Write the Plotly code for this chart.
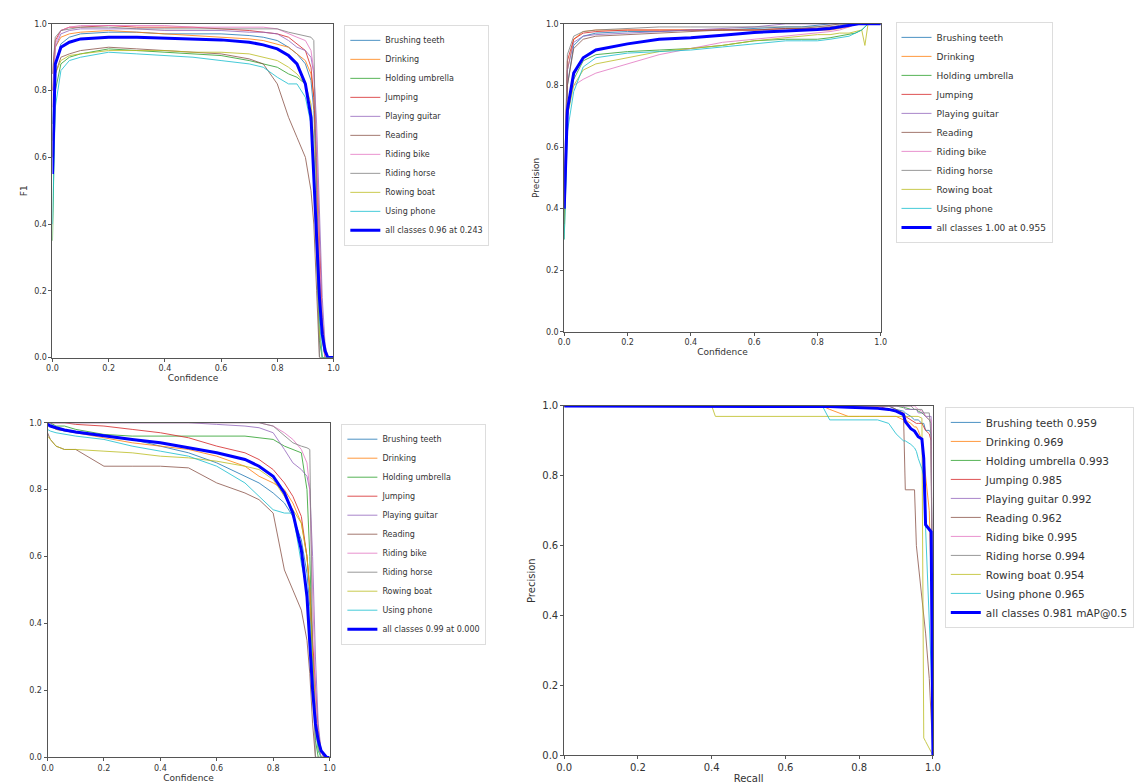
import plotly.graph_objects as go

# ---------------- data ----------------
class_names = ["Brushing teeth", "Drinking", "Holding umbrella", "Jumping", "Playing guitar",
               "Reading", "Riding bike", "Riding horse", "Rowing boat", "Using phone"]
class_ap = [0.959, 0.969, 0.993, 0.985, 0.992, 0.962, 0.995, 0.994, 0.954, 0.965]
class_colors = ["#1f77b4", "#ff7f0e", "#2ca02c", "#d62728", "#9467bd",
                "#8c564b", "#e377c2", "#7f7f7f", "#bcbd22", "#17becf"]

conf = [0.0, 0.01, 0.03, 0.06, 0.1, 0.2, 0.3, 0.4, 0.5, 0.6, 0.7, 0.75, 0.8, 0.84, 0.87,
        0.9, 0.92, 0.93, 0.94, 0.95, 0.96, 0.97, 0.98, 0.99, 1.0]

f1_brushing = [0.70, 0.88, 0.94, 0.96, 0.97, 0.975, 0.975, 0.97, 0.97, 0.97, 0.965, 0.96, 0.95, 0.93, 0.91, 0.88, 0.83, 0.74, 0.50, 0.22, 0.06, 0.0, 0.0, 0.0, 0.0]
f1_drinking = [0.80, 0.93, 0.96, 0.97, 0.975, 0.98, 0.975, 0.97, 0.965, 0.96, 0.955, 0.95, 0.94, 0.93, 0.91, 0.89, 0.85, 0.78, 0.55, 0.25, 0.05, 0.0, 0.0, 0.0, 0.0]
f1_umbrella = [0.35, 0.80, 0.88, 0.90, 0.91, 0.925, 0.92, 0.915, 0.91, 0.905, 0.89, 0.88, 0.87, 0.85, 0.84, 0.82, 0.72, 0.55, 0.30, 0.05, 0.0, 0.0, 0.0, 0.0, 0.0]
f1_jumping = [0.85, 0.95, 0.98, 0.99, 0.99, 0.995, 0.99, 0.99, 0.99, 0.985, 0.98, 0.975, 0.97, 0.96, 0.94, 0.92, 0.87, 0.78, 0.60, 0.35, 0.12, 0.02, 0.0, 0.0, 0.0]
f1_guitar = [0.80, 0.93, 0.97, 0.98, 0.985, 0.985, 0.985, 0.98, 0.98, 0.98, 0.975, 0.975, 0.97, 0.95, 0.93, 0.92, 0.90, 0.85, 0.70, 0.45, 0.18, 0.04, 0.0, 0.0, 0.0]
f1_reading = [0.60, 0.85, 0.90, 0.91, 0.92, 0.93, 0.925, 0.92, 0.915, 0.91, 0.895, 0.88, 0.82, 0.72, 0.66, 0.60, 0.50, 0.40, 0.20, 0.0, 0.0, 0.0, 0.0, 0.0, 0.0]
f1_bike = [0.75, 0.94, 0.98, 0.99, 0.995, 0.995, 0.995, 0.995, 0.99, 0.99, 0.99, 0.99, 0.985, 0.97, 0.96, 0.95, 0.92, 0.86, 0.65, 0.30, 0.08, 0.0, 0.0, 0.0, 0.0]
f1_horse = [0.85, 0.96, 0.98, 0.985, 0.99, 0.99, 0.985, 0.985, 0.985, 0.985, 0.985, 0.985, 0.985, 0.975, 0.97, 0.965, 0.96, 0.95, 0.50, 0.0, 0.0, 0.0, 0.0, 0.0, 0.0]
f1_rowing = [0.65, 0.85, 0.89, 0.905, 0.91, 0.92, 0.92, 0.92, 0.915, 0.915, 0.91, 0.90, 0.89, 0.87, 0.85, 0.82, 0.76, 0.65, 0.40, 0.08, 0.0, 0.0, 0.0, 0.0, 0.0]
f1_phone = [0.40, 0.75, 0.86, 0.89, 0.90, 0.915, 0.91, 0.905, 0.90, 0.89, 0.88, 0.87, 0.84, 0.82, 0.82, 0.78, 0.70, 0.58, 0.38, 0.12, 0.0, 0.0, 0.0, 0.0, 0.0]
f1_all = [0.55, 0.88, 0.93, 0.945, 0.955, 0.96, 0.96, 0.957, 0.955, 0.952, 0.945, 0.937, 0.925, 0.905, 0.88, 0.82, 0.72, 0.55, 0.38, 0.18, 0.07, 0.02, 0.0, 0.0, 0.0]

p_brushing = [0.35, 0.80, 0.93, 0.96, 0.97, 0.975, 0.975, 0.98, 0.98, 0.985, 0.99, 0.99, 0.995, 1.0, 1.0, 1.0, 1.0, 1.0, 1.0, 1.0, 1.0, 1.0, 1.0, 1.0, 1.0]
p_drinking = [0.40, 0.85, 0.95, 0.975, 0.98, 0.98, 0.98, 0.98, 0.98, 0.98, 0.98, 0.98, 0.98, 0.98, 0.985, 0.99, 1.0, 1.0, 1.0, 1.0, 1.0, 1.0, 1.0, 1.0, 1.0]
p_umbrella = [0.30, 0.70, 0.82, 0.88, 0.90, 0.91, 0.915, 0.92, 0.93, 0.945, 0.95, 0.95, 0.95, 0.955, 0.96, 0.965, 0.97, 0.975, 0.98, 0.99, 1.0, 1.0, 1.0, 1.0, 1.0]
p_jumping = [0.45, 0.88, 0.95, 0.97, 0.975, 0.98, 0.98, 0.98, 0.98, 0.98, 0.985, 0.985, 0.985, 0.99, 0.99, 0.995, 1.0, 1.0, 1.0, 1.0, 1.0, 1.0, 1.0, 1.0, 1.0]
p_guitar = [0.40, 0.85, 0.94, 0.96, 0.965, 0.97, 0.975, 0.98, 0.985, 0.99, 1.0, 1.0, 1.0, 1.0, 1.0, 1.0, 1.0, 1.0, 1.0, 1.0, 1.0, 1.0, 1.0, 1.0, 1.0]
p_reading = [0.35, 0.80, 0.92, 0.95, 0.96, 0.965, 0.97, 0.975, 0.98, 0.98, 0.985, 0.985, 0.99, 0.995, 1.0, 1.0, 1.0, 1.0, 1.0, 1.0, 1.0, 1.0, 1.0, 1.0, 1.0]
p_bike = [0.40, 0.75, 0.80, 0.82, 0.84, 0.87, 0.90, 0.92, 0.94, 0.95, 0.96, 0.965, 0.97, 0.975, 0.98, 0.99, 1.0, 1.0, 1.0, 1.0, 1.0, 1.0, 1.0, 1.0, 1.0]
p_horse = [0.45, 0.90, 0.96, 0.975, 0.98, 0.985, 0.99, 0.99, 0.99, 0.99, 0.99, 0.99, 0.99, 0.99, 0.995, 1.0, 1.0, 1.0, 1.0, 1.0, 1.0, 1.0, 1.0, 1.0, 1.0]
p_rowing = [0.35, 0.70, 0.80, 0.85, 0.87, 0.89, 0.91, 0.92, 0.93, 0.945, 0.955, 0.96, 0.965, 0.965, 0.97, 0.97, 0.975, 0.975, 0.98, 0.93, 1.0, 1.0, 1.0, 1.0, 1.0]
p_phone = [0.30, 0.65, 0.78, 0.86, 0.89, 0.905, 0.91, 0.915, 0.925, 0.935, 0.945, 0.945, 0.945, 0.95, 0.955, 0.96, 0.97, 0.975, 0.98, 0.99, 1.0, 1.0, 1.0, 1.0, 1.0]
p_all = [0.40, 0.72, 0.84, 0.89, 0.915, 0.935, 0.95, 0.955, 0.963, 0.972, 0.977, 0.979, 0.982, 0.985, 0.99, 0.997, 1.0, 1.0, 1.0, 1.0, 1.0, 1.0, 1.0, 1.0, 1.0]

r_brushing = [1.0, 1.0, 0.98, 0.975, 0.97, 0.96, 0.95, 0.93, 0.91, 0.88, 0.84, 0.82, 0.79, 0.76, 0.72, 0.65, 0.55, 0.45, 0.30, 0.15, 0.05, 0.0, 0.0, 0.0, 0.0]
r_drinking = [1.0, 0.99, 0.98, 0.975, 0.97, 0.955, 0.94, 0.93, 0.92, 0.90, 0.87, 0.84, 0.82, 0.80, 0.76, 0.70, 0.60, 0.50, 0.30, 0.12, 0.03, 0.0, 0.0, 0.0, 0.0]
r_umbrella = [1.0, 1.0, 0.99, 0.99, 0.98, 0.965, 0.96, 0.96, 0.96, 0.96, 0.96, 0.955, 0.95, 0.93, 0.92, 0.91, 0.80, 0.60, 0.30, 0.05, 0.0, 0.0, 0.0, 0.0, 0.0]
r_jumping = [1.0, 1.0, 1.0, 1.0, 0.995, 0.99, 0.98, 0.97, 0.955, 0.93, 0.91, 0.89, 0.86, 0.82, 0.78, 0.72, 0.60, 0.50, 0.35, 0.20, 0.08, 0.02, 0.0, 0.0, 0.0]
r_guitar = [1.0, 1.0, 1.0, 1.0, 1.0, 1.0, 1.0, 1.0, 1.0, 0.995, 0.99, 0.985, 0.97, 0.92, 0.88, 0.86, 0.84, 0.80, 0.60, 0.30, 0.10, 0.02, 0.0, 0.0, 0.0]
r_reading = [0.97, 0.95, 0.93, 0.92, 0.92, 0.87, 0.87, 0.87, 0.865, 0.82, 0.79, 0.77, 0.73, 0.56, 0.50, 0.44, 0.35, 0.25, 0.10, 0.0, 0.0, 0.0, 0.0, 0.0, 0.0]
r_bike = [1.0, 1.0, 1.0, 1.0, 1.0, 1.0, 1.0, 1.0, 1.0, 1.0, 1.0, 1.0, 0.99, 0.97, 0.95, 0.92, 0.88, 0.80, 0.50, 0.20, 0.05, 0.0, 0.0, 0.0, 0.0]
r_horse = [1.0, 1.0, 1.0, 1.0, 1.0, 1.0, 1.0, 1.0, 1.0, 1.0, 1.0, 1.0, 0.99, 0.96, 0.94, 0.93, 0.925, 0.92, 0.30, 0.0, 0.0, 0.0, 0.0, 0.0, 0.0]
r_rowing = [0.96, 0.95, 0.93, 0.92, 0.92, 0.915, 0.91, 0.90, 0.895, 0.885, 0.87, 0.86, 0.83, 0.78, 0.74, 0.70, 0.60, 0.50, 0.30, 0.10, 0.02, 0.0, 0.0, 0.0, 0.0]
r_phone = [0.98, 0.975, 0.97, 0.965, 0.96, 0.95, 0.93, 0.915, 0.90, 0.87, 0.82, 0.78, 0.74, 0.73, 0.73, 0.58, 0.50, 0.40, 0.25, 0.10, 0.02, 0.0, 0.0, 0.0, 0.0]
r_all = [0.995, 0.99, 0.985, 0.978, 0.972, 0.96, 0.95, 0.94, 0.925, 0.91, 0.89, 0.87, 0.84, 0.79, 0.73, 0.62, 0.48, 0.33, 0.20, 0.10, 0.05, 0.02, 0.01, 0.0, 0.0]

recall = [0.0, 0.40, 0.41, 0.70, 0.72, 0.77, 0.80, 0.85, 0.88, 0.90, 0.92, 0.925, 0.94, 0.95,
          0.955, 0.96, 0.97, 0.975, 0.98, 0.99, 0.995, 1.0]

pr_brushing = [1.0, 1.0, 1.0, 1.0, 1.0, 1.0, 1.0, 1.0, 1.0, 0.99, 0.985, 0.98, 0.97, 0.96, 0.96, 0.96, 0.95, 0.95, 0.93, 0.93, 0.92, 0.0]
pr_drinking = [1.0, 1.0, 1.0, 1.0, 0.99, 0.97, 0.97, 0.97, 0.97, 0.97, 0.96, 0.96, 0.95, 0.94, 0.94, 0.93, 0.90, 0.85, 0.80, 0.70, 0.50, 0.0]
pr_umbrella = [1.0, 1.0, 1.0, 1.0, 1.0, 1.0, 1.0, 1.0, 1.0, 1.0, 0.995, 0.995, 0.99, 0.99, 0.99, 0.985, 0.98, 0.975, 0.97, 0.96, 0.95, 0.0]
pr_jumping = [1.0, 1.0, 1.0, 1.0, 1.0, 1.0, 1.0, 1.0, 0.99, 0.985, 0.98, 0.97, 0.96, 0.955, 0.95, 0.95, 0.95, 0.94, 0.93, 0.92, 0.90, 0.0]
pr_guitar = [1.0, 1.0, 1.0, 1.0, 1.0, 1.0, 1.0, 1.0, 1.0, 1.0, 1.0, 0.99, 0.99, 0.99, 0.99, 0.98, 0.98, 0.98, 0.97, 0.97, 0.97, 0.0]
pr_reading = [1.0, 1.0, 1.0, 1.0, 1.0, 1.0, 1.0, 1.0, 1.0, 0.99, 0.98, 0.76, 0.76, 0.76, 0.60, 0.55, 0.45, 0.40, 0.35, 0.22, 0.12, 0.0]
pr_bike = [1.0, 1.0, 1.0, 1.0, 1.0, 1.0, 1.0, 1.0, 1.0, 1.0, 1.0, 1.0, 1.0, 1.0, 0.995, 0.99, 0.985, 0.98, 0.97, 0.96, 0.96, 0.0]
pr_horse = [1.0, 1.0, 1.0, 1.0, 1.0, 1.0, 1.0, 1.0, 1.0, 1.0, 1.0, 1.0, 1.0, 0.99, 0.99, 0.99, 0.99, 0.98, 0.98, 0.98, 0.91, 0.0]
pr_rowing = [1.0, 1.0, 0.97, 0.97, 0.97, 0.97, 0.97, 0.97, 0.97, 0.97, 0.97, 0.97, 0.97, 0.97, 0.97, 0.97, 0.965, 0.05, 0.04, 0.02, 0.01, 0.0]
pr_phone = [1.0, 1.0, 1.0, 1.0, 0.96, 0.96, 0.96, 0.96, 0.95, 0.92, 0.90, 0.90, 0.89, 0.88, 0.87, 0.85, 0.82, 0.80, 0.65, 0.40, 0.25, 0.0]
pr_all = [1.0, 1.0, 1.0, 1.0, 0.998, 0.996, 0.995, 0.993, 0.99, 0.985, 0.975, 0.955, 0.935, 0.928, 0.92, 0.912, 0.905, 0.85, 0.66, 0.645, 0.64, 0.0]

f1_series = [f1_brushing, f1_drinking, f1_umbrella, f1_jumping, f1_guitar, f1_reading, f1_bike, f1_horse, f1_rowing, f1_phone]
p_series = [p_brushing, p_drinking, p_umbrella, p_jumping, p_guitar, p_reading, p_bike, p_horse, p_rowing, p_phone]
r_series = [r_brushing, r_drinking, r_umbrella, r_jumping, r_guitar, r_reading, r_bike, r_horse, r_rowing, r_phone]
pr_series = [pr_brushing, pr_drinking, pr_umbrella, pr_jumping, pr_guitar, pr_reading, pr_bike, pr_horse, pr_rowing, pr_phone]

all_labels = ["all classes 0.96 at 0.243", "all classes 1.00 at 0.955",
              "all classes 0.99 at 0.000", "all classes 0.981 mAP@0.5"]
x_titles = ["Confidence", "Confidence", "Confidence", "Recall"]
y_titles = ["F1", "Precision", "", "Precision"]
tick_vals = [0.0, 0.2, 0.4, 0.6, 0.8, 1.0]

# ---------------- layout geometry (pixels) ----------------
W, H = 1142, 784
# (left, right, top, bottom) of each plot area in pixels
boxes = [(37, 322, 11, 349), (556, 877, 11, 323), (32, 318, 415, 754), (556, 930, 398, 752)]
legend_pos = [(333, 12, 8), (892, 9, 9), (330, 416, 8), (942, 399, 10.5)]
tick_sizes = [8, 8, 8, 10]
title_sizes = [9, 9, 9, 10]

fig = go.Figure()

panels = [(conf, f1_series, f1_all, False), (conf, p_series, p_all, False),
          (conf, r_series, r_all, False), (recall, pr_series, pr_all, True)]

for k, (xs, series, allv, with_ap) in enumerate(panels):
    ax = "" if k == 0 else str(k + 1)
    leg = "legend" if k == 0 else "legend" + str(k + 1)
    for i, name in enumerate(class_names):
        label = f"{name} {class_ap[i]:.3f}" if with_ap else name
        fig.add_trace(go.Scatter(x=xs, y=series[i], mode="lines", name=label,
                                 line=dict(color=class_colors[i], width=1),
                                 opacity=0.8,
                                 xaxis="x" + ax, yaxis="y" + ax, legend=leg))
    fig.add_trace(go.Scatter(x=xs, y=allv, mode="lines", name=all_labels[k],
                             line=dict(color="#0000ff", width=3),
                             xaxis="x" + ax, yaxis="y" + ax, legend=leg))

layout = dict(width=W, height=H, margin=dict(l=0, r=0, t=0, b=0),
              plot_bgcolor="white", paper_bgcolor="white",
              font=dict(family="DejaVu Sans", color="#333333"))

for k, (l, r, t, b) in enumerate(boxes):
    ax = "" if k == 0 else str(k + 1)
    common = dict(range=[0, 1], showgrid=False, zeroline=False, showline=True,
                  linecolor="#555555", linewidth=1, mirror=True, ticks="outside",
                  ticklen=3, tickcolor="#555555", tickvals=tick_vals, tickformat=".1f",
                  tickfont=dict(size=tick_sizes[k], color="#333333"))
    layout["xaxis" + ax] = dict(common, domain=[l / W, r / W], anchor="y" + ax,
                                title=dict(text=x_titles[k], font=dict(size=title_sizes[k]), standoff=2))
    layout["yaxis" + ax] = dict(common, domain=[1 - b / H, 1 - t / H], anchor="x" + ax,
                                title=dict(text=y_titles[k], font=dict(size=title_sizes[k]), standoff=4))
    lx, ly, fs = legend_pos[k]
    layout["legend" if k == 0 else "legend" + str(k + 1)] = dict(
        x=lx / W, y=1 - ly / H, xanchor="left", yanchor="top",
        bgcolor="rgba(255,255,255,0.9)", bordercolor="#dddddd", borderwidth=1,
        font=dict(size=fs, color="#333333"), tracegroupgap=0, itemwidth=30)

fig.update_layout(**layout)
fig.write_html("out.html")
